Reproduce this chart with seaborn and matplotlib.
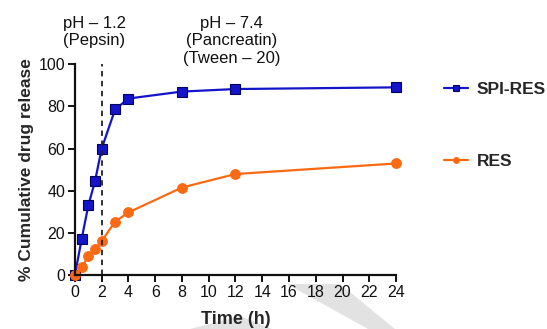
import numpy as np
import pandas as pd
import matplotlib
matplotlib.use("Agg")
import matplotlib.pyplot as plt
from matplotlib.patches import Polygon
import seaborn as sns

# Data
time_h = [0, 0.5, 1, 1.5, 2, 3, 4, 8, 12, 24]
spi_res = [0, 17, 33, 44.5, 60, 78.5, 83.7, 87, 88.2, 89]
res = [0, 3.6, 9, 12.3, 16.1, 25.3, 29.7, 41.5, 47.9, 52.9]
series_names = ["SPI-RES", "RES"]
x_ticks = list(range(0, 25, 2))
y_ticks = [0, 20, 40, 60, 80, 100]
phase_boundary = 2

df = pd.DataFrame({
    "Time (h)": time_h * 2,
    "release": spi_res + res,
    "Formulation": [series_names[0]] * len(time_h) + [series_names[1]] * len(time_h),
})

sns.set_style("ticks")
plt.rcParams["font.family"] = ["Liberation Sans", "DejaVu Sans"]

W, H = 547, 329
fig = plt.figure(figsize=(W / 100, H / 100), dpi=100)

# faint grey watermark shapes at the bottom (background artefact)
wm = "#e2e2e2"
for pts in ([(287, 284), (340, 284), (395, 329), (368, 329)],
            [(190, 329), (240, 316), (272, 329)]):
    fig.patches.append(Polygon([(x / W, 1 - y / H) for x, y in pts], closed=True,
                               transform=fig.transFigure, facecolor=wm, edgecolor="none", zorder=-5))

ax = fig.add_axes([0.137, 0.164, 0.587, 0.641])
ax.set_zorder(2)
ax.patch.set_alpha(0)

blue = "#1414c8"
orange = "#fb6a12"

sns.lineplot(data=df, x="Time (h)", y="release", hue="Formulation", style="Formulation",
             palette={"SPI-RES": blue, "RES": orange},
             markers={"SPI-RES": "s", "RES": "o"}, dashes=False,
             markersize=7.5, linewidth=1.6, ax=ax)

for line in ax.lines:
    if line.get_marker() == "s":
        line.set_markeredgecolor("#000060")
        line.set_markeredgewidth(0.8)
        line.set_markersize(7.5)
    elif line.get_marker() == "o":
        line.set_markeredgecolor(orange)
        line.set_markersize(7)
    line.set_clip_on(False)

ax.axvline(phase_boundary, ymin=0, ymax=1, color="#222222", linestyle=(0, (3, 2.5)), linewidth=1.3)

ax.set_xlim(0, 24)
ax.set_ylim(0, 100)
ax.set_xticks(x_ticks)
ax.set_yticks(y_ticks)
ax.tick_params(axis="both", labelsize=11.5, length=5, width=1.4, direction="out", pad=2, colors="#111111")
for s in ["left", "bottom"]:
    ax.spines[s].set_linewidth(1.6)
    ax.spines[s].set_color("#111111")
sns.despine(ax=ax)

ax.set_xlabel("Time (h)", fontsize=13, fontweight="bold", labelpad=8)
ax.set_ylabel("% Cumulative drug release", fontsize=12.5, fontweight="bold", labelpad=3)

fig.text(0.116, 0.95, "pH – 1.2\n(Pepsin)", ha="left", va="top", fontsize=12, linespacing=1.17, color="#111111")
fig.text(0.424, 0.95, "pH – 7.4\n(Pancreatin)\n(Tween – 20)", ha="center", va="top", fontsize=12, linespacing=1.17, color="#111111")

handles, labels = ax.get_legend_handles_labels()
leg = ax.legend(handles, labels, loc="upper left", bbox_to_anchor=(1.1, 0.99), frameon=False,
                prop={"weight": "bold", "size": 12.5}, labelspacing=3.3, handlelength=1.4,
                handletextpad=0.5, markerscale=0.6)

fig.savefig("out.png", dpi=100)
